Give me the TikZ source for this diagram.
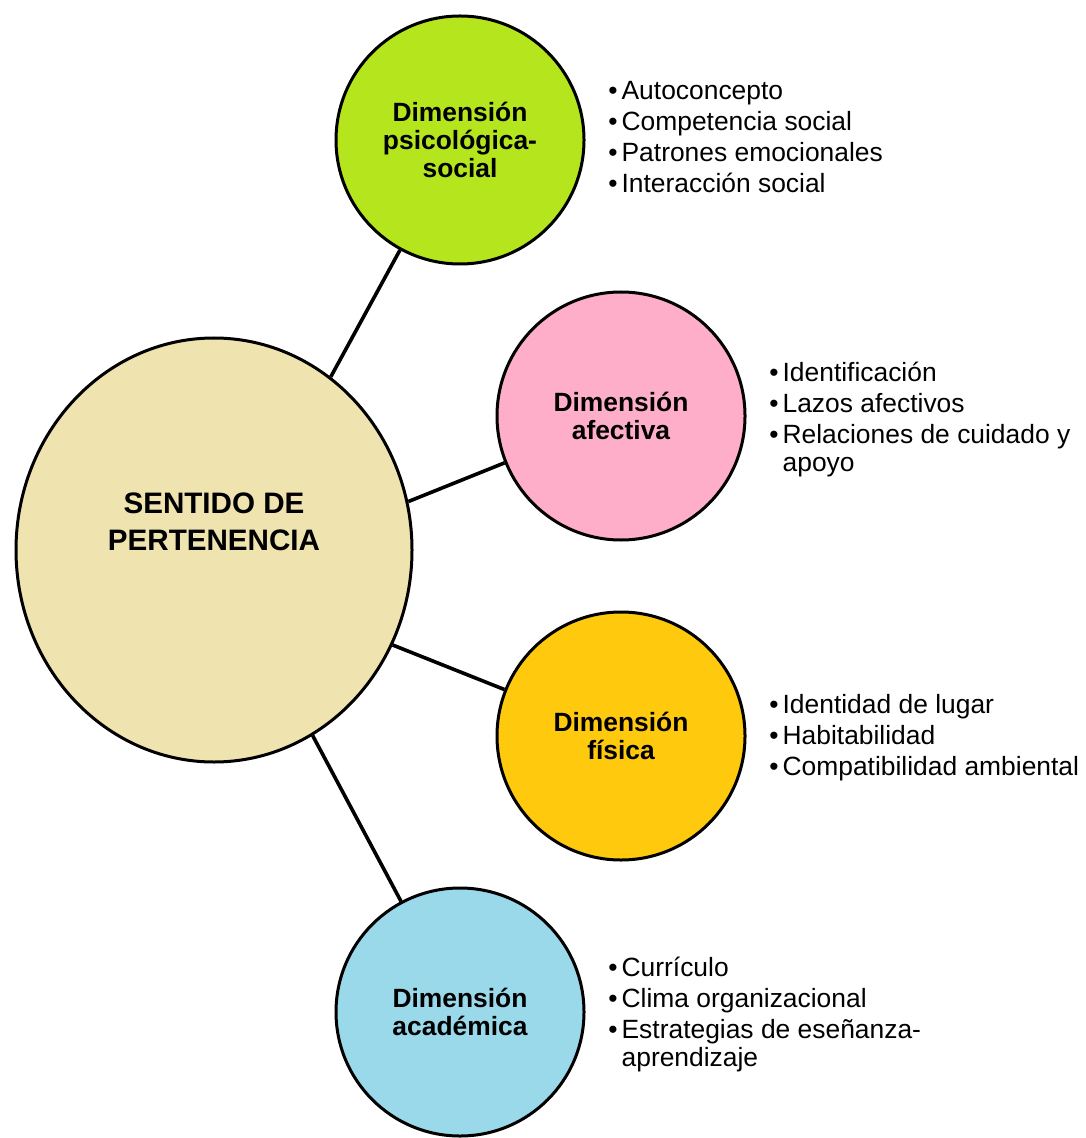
\documentclass[tikz,border=0pt]{standalone}
\usepackage{fontspec}
\setmainfont{Liberation Sans}
\usepackage{tikz}
\usetikzlibrary{shapes.geometric}
\definecolor{trigo}{RGB}{239,228,176}
\definecolor{lima}{RGB}{181,230,29}
\definecolor{rosa}{RGB}{255,174,201}
\definecolor{oro}{RGB}{255,201,14}
\definecolor{celeste}{RGB}{153,217,234}
\newcommand{\vineta}{•\kern2pt}

\begin{document}
\begin{tikzpicture}[x=0.5pt,y=-0.5pt,
    dimcircle/.style={circle,draw,line width=1.5pt,minimum size=124pt,inner sep=0pt,align=center,font=\bfseries\fontsize{13.2}{14.2}\selectfont},
    itemlist/.style={anchor=base west,align=left,inner sep=0pt,font=\fontsize{13.2}{14}\selectfont},
    link/.style={line width=1.8pt}]
    \useasboundingbox (0,0) rectangle (1085,1138);
    % centro
    \node[ellipse,draw,line width=1.5pt,fill=trigo,minimum width=198pt,minimum height=212pt,inner sep=0pt] (sentido) at (214,550) {};
    \node[font=\bfseries\fontsize{14.8}{18.5}\selectfont,align=center] (sentidotxt) at (214,522) {SENTIDO DE\\PERTENENCIA};
    % dimensiones
    \node[dimcircle,fill=lima] (psico) at (460,140) {Dimensión\\psicológica-\\social};
    \node[dimcircle,fill=rosa] (afect) at (621,416) {Dimensión\\afectiva};
    \node[dimcircle,fill=oro] (fisic) at (621,736) {Dimensión\\física};
    \node[dimcircle,fill=celeste] (acad) at (460,1012) {Dimensión\\académica};
    % conectores
    \draw[link] (sentido.56) -- (psico);
    \draw[link] (sentido.14) -- (afect);
    \draw[link] (sentido.-28) -- (fisic);
    \draw[link] (sentido.-62) -- (acad);
    % listas (anclado en la ultima linea)
    \node[itemlist] (psicolist) at (608,193) {\vineta Autoconcepto\\[1.5pt]\vineta Competencia social\\[1.5pt]\vineta Patrones emocionales\\[1.5pt]\vineta Interacción social};
    \node[itemlist] (afectlist) at (769,471) {\vineta Identificación\\[1.5pt]\vineta Lazos afectivos\\[1.5pt]\vineta Relaciones de cuidado y\\\hphantom{\vineta}apoyo};
    \node[itemlist] (fisiclist) at (769,775) {\vineta Identidad de lugar\\[1.5pt]\vineta Habitabilidad\\[1.5pt]\vineta Compatibilidad ambiental};
    \node[itemlist] (acadlist) at (608,1066) {\vineta Currículo\\[1.5pt]\vineta Clima organizacional\\[1.5pt]\vineta Estrategias de eseñanza-\\\hphantom{\vineta}aprendizaje};
\end{tikzpicture}
\end{document}
